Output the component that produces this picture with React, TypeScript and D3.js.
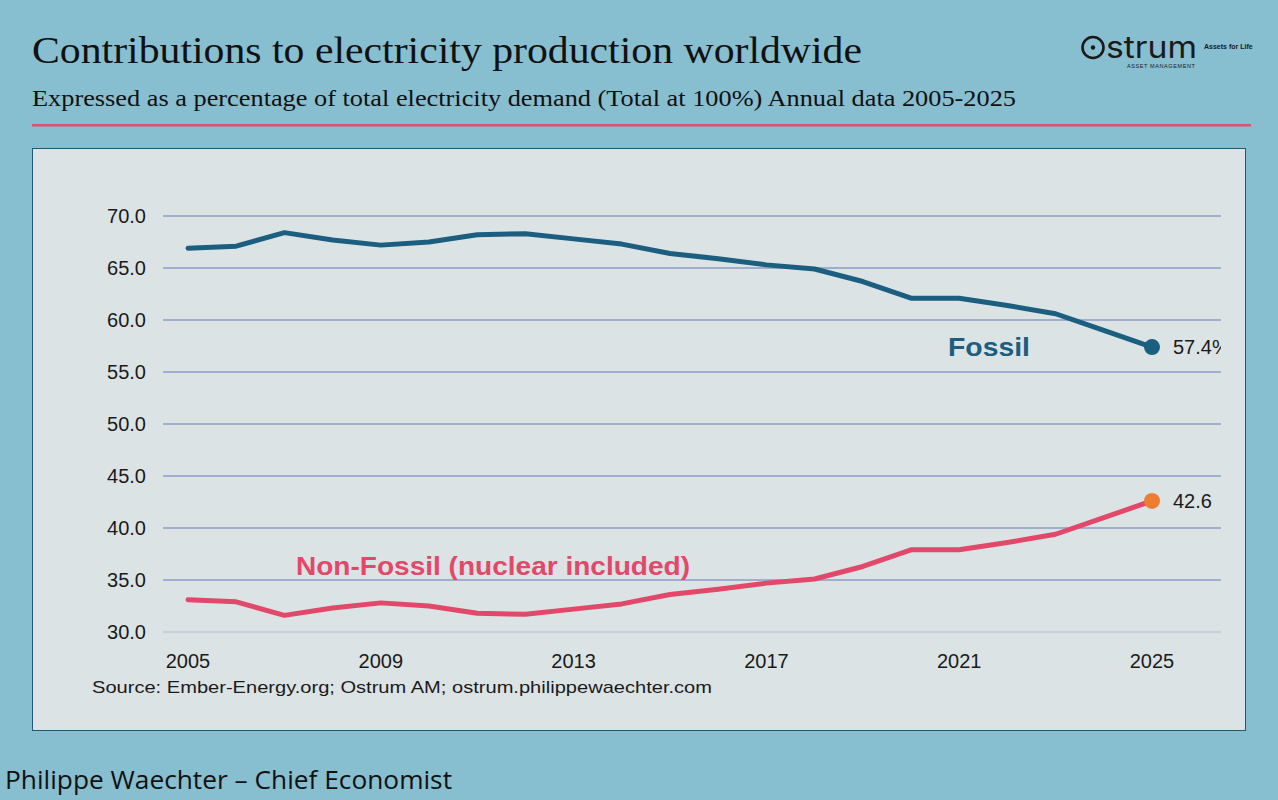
import React from "react";
import * as d3 from "d3";

const years = d3.range(2005, 2026);
const fossil = [66.9, 67.1, 68.4, 67.7, 67.2, 67.5, 68.2, 68.3, 67.8, 67.3, 66.4, 65.9, 65.3, 64.9, 63.7, 62.1, 62.1, 61.4, 60.6, 59.0, 57.4];
const nonFossil = [33.1, 32.9, 31.6, 32.3, 32.8, 32.5, 31.8, 31.7, 32.2, 32.7, 33.6, 34.1, 34.7, 35.1, 36.3, 37.9, 37.9, 38.6, 39.4, 41.0, 42.6];
const yTicks = [30, 35, 40, 45, 50, 55, 60, 65, 70];
const xTicks = [2005, 2009, 2013, 2017, 2021, 2025];

const W = 1278;
const H = 800;
const plot = { left: 163, right: 1221, top: 216, bottom: 632 };

const blue = "#1b5e80";
const red = "#e2486a";
const orange = "#ed7d31";
const sans = "'Liberation Sans', Arial, sans-serif";
const serif = "'Liberation Serif', 'Times New Roman', serif";

export default function App() {
  const x = d3.scaleLinear().domain([2005, 2025]).range([188, 1152]);
  const y = d3.scaleLinear().domain([30, 70]).range([plot.bottom, plot.top]);

  const line = d3
    .line<number>()
    .x((d, i) => x(years[i]))
    .y(d => y(d))
    .curve(d3.curveLinear);

  const lastF = fossil[fossil.length - 1];
  const lastN = nonFossil[nonFossil.length - 1];

  return (
    <svg width={W} height={H} style={{ position: "absolute", left: 0, top: 0, display: "block" }}>
      <defs>
        <clipPath id="plotClip">
          <rect x={32} y={148} width={plot.right - 32} height={583} />
        </clipPath>
      </defs>
      <rect x={0} y={0} width={W} height={H} fill="#87bed0" />

      {/* header */}
      <text x={32} y={63} fontFamily={serif} fontSize={38} fill="#111" textLength={830} lengthAdjust="spacingAndGlyphs">
        Contributions to electricity production worldwide
      </text>
      <text x={32} y={106} fontFamily={serif} fontSize={23} fill="#111" textLength={984} lengthAdjust="spacingAndGlyphs">
        Expressed as a percentage of total electricity demand (Total at 100%) Annual data 2005-2025
      </text>
      <rect x={32} y={124} width={1219} height={2.5} fill="#e0506a" />

      {/* logo */}
      <g fill="#1a1a1a">
        <circle cx={1093} cy={47.5} r={10.5} fill="none" stroke="#1a1a1a" strokeWidth={2.6} />
        <circle cx={1093} cy={47.5} r={2.2} />
        <text x={1106} y={58} fontFamily="Inter, 'Open Sans', sans-serif" fontSize={30} textLength={91} lengthAdjust="spacingAndGlyphs">strum</text>
        <text x={1204} y={49} fontFamily={sans} fontSize={7} fontWeight="bold">Assets for Life</text>
        <text x={1127} y={68} fontFamily={sans} fontSize={5.5} letterSpacing={0.6}>ASSET MANAGEMENT</text>
      </g>

      {/* panel */}
      <rect x={32.5} y={148.5} width={1213} height={582} fill="#dce3e5" stroke="#1d5a78" strokeWidth={1} />

      {/* grid + y ticks */}
      {yTicks.map(t => (
        <g key={t}>
          <line x1={plot.left} x2={plot.right} y1={y(t)} y2={y(t)} stroke={t === 30 ? "#c9cfd6" : "#9eaecb"} strokeWidth={2} />
          <text x={146} y={y(t)} dy="0.35em" textAnchor="end" fontFamily={sans} fontSize={20} fill="#1a1a1a">
            {d3.format(".1f")(t)}
          </text>
        </g>
      ))}

      {/* x ticks */}
      {xTicks.map(t => (
        <text key={t} x={x(t)} y={668} textAnchor="middle" fontFamily={sans} fontSize={20} fill="#1a1a1a">
          {t}
        </text>
      ))}

      <text x={92} y={693} fontFamily={sans} fontSize={17} fill="#1a1a1a" textLength={620} lengthAdjust="spacingAndGlyphs">
        Source: Ember-Energy.org; Ostrum  AM; ostrum.philippewaechter.com
      </text>

      <g clipPath="url(#plotClip)">
        <path d={line(fossil) ?? ""} fill="none" stroke={blue} strokeWidth={5} strokeLinejoin="round" strokeLinecap="round" />
        <path d={line(nonFossil) ?? ""} fill="none" stroke={red} strokeWidth={5} strokeLinejoin="round" strokeLinecap="round" />
        <circle cx={x(2025)} cy={y(lastF)} r={8} fill={blue} />
        <circle cx={x(2025)} cy={y(lastN)} r={8} fill={orange} />
        <text x={x(2025) + 21} y={y(lastF)} dy="0.35em" fontFamily={sans} fontSize={20} fill="#1a1a1a">
          {d3.format(".1f")(lastF)}%
        </text>
        <text x={x(2025) + 21} y={y(lastN)} dy="0.35em" fontFamily={sans} fontSize={20} fill="#1a1a1a">
          {d3.format(".1f")(lastN)}
        </text>
      </g>

      <text x={948} y={356} fontFamily={sans} fontSize={26} fontWeight="bold" fill={blue} textLength={82} lengthAdjust="spacingAndGlyphs">
        Fossil
      </text>
      <text x={296} y={575} fontFamily={sans} fontSize={26} fontWeight="bold" fill={red} textLength={394} lengthAdjust="spacingAndGlyphs">
        Non-Fossil (nuclear included)
      </text>

      {/* footer */}
      <text x={5} y={789} fontFamily="'Open Sans', sans-serif" fontSize={26} fill="#111" textLength={447} lengthAdjust="spacingAndGlyphs">
        Philippe Waechter – Chief Economist
      </text>
    </svg>
  );
}
